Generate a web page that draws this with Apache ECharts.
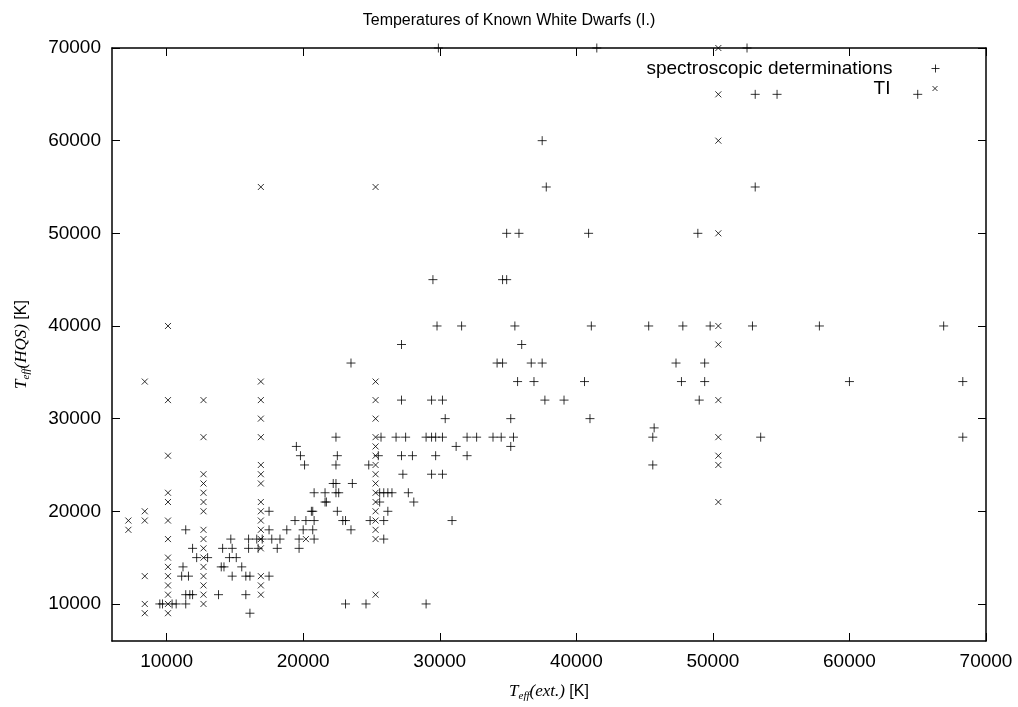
<!DOCTYPE html>
<html>
<head>
<meta charset="utf-8">
<script src="https://cdn.jsdelivr.net/npm/echarts@6/dist/echarts.min.js"></script>
<style>
  html, body { margin: 0; padding: 0; background: #fff; }
  #chart { width: 1018px; height: 707px; }
</style>
</head>
<body>
<div id="chart"></div>
<script>
// tick values (both axes run 6000..70000)
var xTicks = [10000, 20000, 30000, 40000, 50000, 60000, 70000]
var yTicks = [10000, 20000, 30000, 40000, 50000, 60000, 70000]

// spectroscopic determinations: [T_eff(ext.), T_eff(HQS)]
var spectro = [
	[29900, 70000], [41500, 70000], [52500, 70000],
	[53100, 65000], [54700, 65000], [65000, 65000],
	[37500, 60000], [37800, 55000], [53100, 55000],
	[34900, 50000], [35800, 50000], [40900, 50000], [48900, 50000],
	[29500, 45000], [34600, 45000], [34900, 45000],
	[29800, 40000], [31600, 40000], [35500, 40000], [41100, 40000], [45300, 40000],
	[47800, 40000], [49800, 40000], [52900, 40000], [57800, 40000], [66900, 40000],
	[27200, 38000], [36000, 38000],
	[23500, 36000], [34200, 36000], [34600, 36000], [36700, 36000], [37500, 36000],
	[47300, 36000], [49400, 36000],
	[35700, 34000], [36900, 34000], [40600, 34000], [47700, 34000], [49400, 34000],
	[60000, 34000], [68300, 34000],
	[27200, 32000], [29400, 32000], [30200, 32000], [37700, 32000], [39100, 32000], [49000, 32000],
	[30400, 30000], [35200, 30000], [41000, 30000],
	[45700, 29000],
	[22400, 28000], [25700, 28000], [26800, 28000], [27500, 28000], [29000, 28000],
	[29400, 28000], [29700, 28000], [30200, 28000], [32000, 28000], [32700, 28000],
	[33900, 28000], [34500, 28000], [35400, 28000], [45600, 28000], [53500, 28000], [68300, 28000],
	[19500, 27000], [31200, 27000], [35200, 27000],
	[19800, 26000], [22500, 26000], [25500, 26000], [27200, 26000], [28000, 26000],
	[29700, 26000], [32000, 26000],
	[20100, 25000], [22400, 25000], [24800, 25000], [45600, 25000],
	[27300, 24000], [29400, 24000], [30200, 24000],
	[22200, 23000], [22400, 23000], [23600, 23000],
	[20800, 22000], [21600, 22000], [22400, 22000], [22600, 22000], [25600, 22000],
	[25900, 22000], [26200, 22000], [26500, 22000], [27700, 22000],
	[21600, 21000], [21700, 21000], [25600, 21000], [28100, 21000],
	[17500, 20000], [20600, 20000], [20700, 20000], [22500, 20000], [26200, 20000],
	[19400, 19000], [20200, 19000], [20800, 19000], [22900, 19000], [23100, 19000],
	[24900, 19000], [25900, 19000], [30900, 19000],
	[11400, 18000], [17500, 18000], [18800, 18000], [20000, 18000], [20700, 18000], [23500, 18000],
	[14700, 17000], [16000, 17000], [16600, 17000], [17000, 17000], [17700, 17000],
	[18300, 17000], [19700, 17000], [20800, 17000], [25900, 17000],
	[11900, 16000], [14100, 16000], [14800, 16000], [16000, 16000], [16700, 16000],
	[18100, 16000], [19700, 16000],
	[12200, 15000], [13000, 15000], [14600, 15000], [15100, 15000],
	[11200, 14000], [14000, 14000], [14200, 14000], [15500, 14000],
	[11100, 13000], [11600, 13000], [14800, 13000], [15800, 13000], [16100, 13000], [17500, 13000],
	[11400, 11000], [11700, 11000], [11900, 11000], [13800, 11000], [15800, 11000],
	[9500, 10000], [9700, 10000], [10400, 10000], [10700, 10000], [11400, 10000],
	[23100, 10000], [24600, 10000], [29000, 10000],
	[16100, 9000]
]

// TI: [T_eff(ext.), T_eff(HQS)]
var ti = [
	[7200, 19000], [7200, 18000],
	[8400, 34000], [8400, 20000], [8400, 19000], [8400, 13000], [8400, 10000], [8400, 9000],
	[10100, 40000], [10100, 32000], [10100, 26000], [10100, 22000], [10100, 21000],
	[10100, 19000], [10100, 17000], [10100, 15000], [10100, 14000], [10100, 13000],
	[10100, 12000], [10100, 11000], [10100, 10000], [10100, 9000],
	[12700, 32000], [12700, 28000], [12700, 24000], [12700, 23000], [12700, 22000],
	[12700, 21000], [12700, 20000], [12700, 18000], [12700, 17000], [12700, 16000],
	[12700, 15000], [12700, 14000], [12700, 13000], [12700, 12000], [12700, 11000], [12700, 10000],
	[16900, 55000], [16900, 34000], [16900, 32000], [16900, 30000], [16900, 28000],
	[16900, 25000], [16900, 24000], [16900, 23000], [16900, 21000], [16900, 20000],
	[16900, 19000], [16900, 18000], [16900, 17000], [16900, 16000], [16900, 13000],
	[16900, 12000], [16900, 11000],
	[20200, 17000],
	[25300, 55000], [25300, 34000], [25300, 32000], [25300, 30000], [25300, 28000],
	[25300, 27000], [25300, 26000], [25300, 25000], [25300, 24000], [25300, 23000],
	[25300, 22000], [25300, 21000], [25300, 20000], [25300, 19000], [25300, 18000],
	[25300, 17000], [25300, 11000],
	[50400, 70000], [50400, 65000], [50400, 60000], [50400, 50000], [50400, 40000],
	[50400, 38000], [50400, 32000], [50400, 28000], [50400, 26000], [50400, 25000], [50400, 21000]
]

var plusPath = 'path://M0,5L10,5M5,0L5,10'
var crossPath = 'path://M0,0L10,10M10,0L0,10'
var sans = 'Liberation Sans, Arial, sans-serif'
var serif = 'Liberation Serif, Times New Roman, serif'

var chartDom = document.getElementById('chart')
var myChart = echarts.init(chartDom, null, { renderer: 'canvas' })
var option

function fmt(v) {
	return String(v)
}

var nameRich = {
	i: { fontFamily: serif, fontStyle: 'italic', fontSize: 17, color: '#000' },
	sub: { fontFamily: serif, fontStyle: 'italic', fontSize: 11, color: '#000', padding: [9, 0, 0, 0] },
	n: { fontFamily: sans, fontSize: 16, color: '#000' },
}

var axisBase = {
	type: 'value',
	min: 6000,
	max: 70000,
	axisLine: { show: true, onZero: false, lineStyle: { color: '#000', width: 1.5 } },
	axisTick: { show: true, inside: true, length: 8, lineStyle: { color: '#000', width: 1 } },
	splitLine: { show: false },
}

option = {
	backgroundColor: '#fff',
	animation: false,
	title: {
		text: 'Temperatures of Known White Dwarfs (I.)',
		left: 'center',
		top: 8,
		textStyle: { fontFamily: sans, fontSize: 16, fontWeight: 'normal', color: '#000' },
	},
	legend: [
		{
			data: ['spectroscopic determinations'],
			right: 71,
			top: 54,
			align: 'right',
			icon: plusPath,
			itemWidth: 8,
			itemHeight: 8,
			itemStyle: { color: 'none', borderColor: '#000', borderWidth: 1 },
			textStyle: { fontFamily: sans, fontSize: 19, color: '#000', padding: [0, 34, 0, 0] },
		},
		{
			data: ['TI'],
			right: 73,
			top: 74,
			align: 'right',
			icon: crossPath,
			itemWidth: 5,
			itemHeight: 5,
			itemStyle: { color: 'none', borderColor: '#000', borderWidth: 1 },
			textStyle: { fontFamily: sans, fontSize: 19, color: '#000', padding: [0, 37, 0, 0] },
		},
	],
	grid: { left: 112, right: 32, top: 48, bottom: 62, containLabel: false },
	xAxis: [
		Object.assign({}, axisBase, {
			position: 'bottom',
			name: '{i|T}{sub|eff}{i|(ext.)}{n| [K]}',
			nameLocation: 'middle',
			nameGap: 41,
			nameTextStyle: { rich: nameRich },
			axisTick: Object.assign({}, axisBase.axisTick, { customValues: xTicks }),
			axisLabel: { customValues: xTicks, formatter: fmt, fontFamily: sans, fontSize: 19, color: '#000', margin: 11 },
		}),
		Object.assign({}, axisBase, {
			position: 'top',
			axisTick: Object.assign({}, axisBase.axisTick, { customValues: xTicks }),
			axisLabel: { show: false },
		}),
	],
	yAxis: [
		Object.assign({}, axisBase, {
			position: 'left',
			name: '{i|T}{sub|eff}{i|(HQS)}{n| [K]}',
			nameLocation: 'middle',
			nameRotate: 90,
			nameGap: 80,
			nameTextStyle: { rich: nameRich },
			axisTick: Object.assign({}, axisBase.axisTick, { customValues: yTicks }),
			axisLabel: { customValues: yTicks, formatter: fmt, fontFamily: sans, fontSize: 19, color: '#000', margin: 11 },
		}),
		Object.assign({}, axisBase, {
			position: 'right',
			axisTick: Object.assign({}, axisBase.axisTick, { customValues: yTicks }),
			axisLabel: { show: false },
		}),
	],
	series: [
		{
			name: 'spectroscopic determinations',
			type: 'scatter',
			data: spectro,
			symbol: plusPath,
			symbolSize: 9,
			itemStyle: { color: 'none', borderColor: '#000', borderWidth: 1 },
			emphasis: { disabled: true },
		},
		{
			name: 'TI',
			type: 'scatter',
			data: ti,
			symbol: crossPath,
			symbolSize: 6,
			itemStyle: { color: 'none', borderColor: '#000', borderWidth: 1 },
			emphasis: { disabled: true },
		},
	],
}

option && myChart.setOption(option)
</script>
</body>
</html>
